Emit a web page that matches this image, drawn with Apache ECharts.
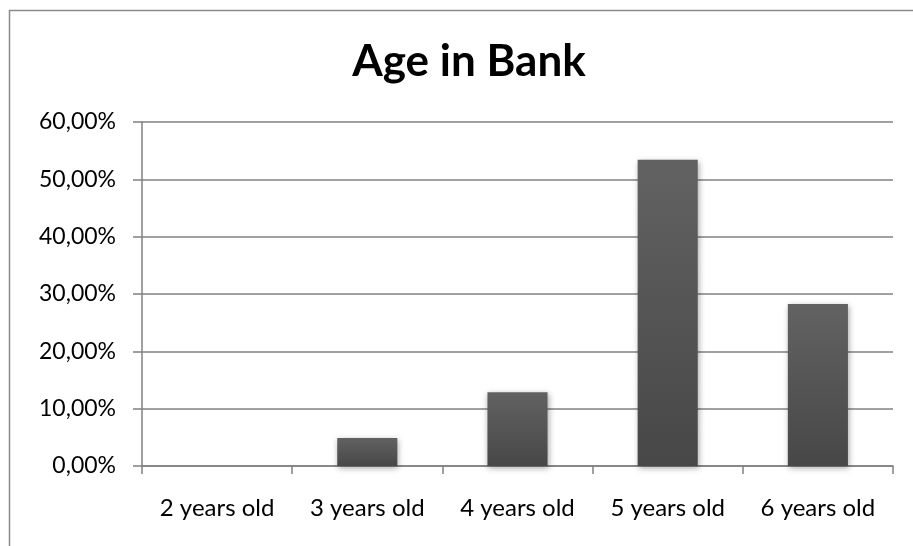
<!DOCTYPE html>
<html>
<head>
<meta charset="utf-8">
<script src="https://cdn.jsdelivr.net/npm/echarts@6/dist/echarts.min.js"></script>
<style>html,body{margin:0;padding:0;background:#fff;}#c{width:913px;height:546px;}</style>
</head>
<body>
<div id="c"></div>
<script>
const titleText = 'Age in Bank';
const categories = ['2 years old', '3 years old', '4 years old', '5 years old', '6 years old'];
const values = [0, 4.88, 12.85, 53.4, 28.25];
const yTicks = [0, 10, 20, 30, 40, 50, 60];

const chart = echarts.init(document.getElementById('c'));
const axisColor = '#808080';
chart.setOption({
  animation: false,
  backgroundColor: '#ffffff',
  title: {
    text: titleText,
    left: 464, top: 35, textAlign: 'center',
    textStyle: { fontFamily: 'Lato', fontWeight: 'bold', fontSize: 44, color: '#000' }
  },
  graphic: [{
    type: 'rect', shape: { x: 9.5, y: 10.5, width: 1200, height: 1200 },
    style: { fill: 'none', stroke: '#8a8a8a', lineWidth: 1.5 }, silent: true
  }],
  grid: { left: 142, right: 20, top: 122, bottom: 80 },
  xAxis: {
    type: 'category', data: categories,
    axisLine: { lineStyle: { color: axisColor, width: 1.5 } },
    axisTick: { show: true, length: 8, lineStyle: { color: axisColor, width: 1.5 } },
    axisLabel: { fontFamily: 'Lato', fontSize: 24, color: '#000', margin: 30 }
  },
  yAxis: {
    type: 'value', min: 0, max: 60, interval: 10,
    axisLine: { show: true, lineStyle: { color: axisColor, width: 1.5 } },
    axisTick: { show: true, length: 9, lineStyle: { color: axisColor, width: 1.5 } },
    splitLine: { lineStyle: { color: axisColor, width: 1.5 } },
    axisLabel: {
      fontFamily: 'Lato', fontSize: 23, color: '#000', margin: 26,
      formatter: v => yTicks.includes(v) ? v.toFixed(2).replace('.', ',') + '%' : ''
    }
  },
  series: [{
    type: 'bar', data: values, barWidth: '40%',
    itemStyle: {
      color: new echarts.graphic.LinearGradient(0, 0, 0, 1, [
        { offset: 0, color: '#626262' }, { offset: 1, color: '#474747' }
      ]),
      shadowBlur: 6, shadowColor: 'rgba(0,0,0,0.35)', shadowOffsetX: 1, shadowOffsetY: 2
    }
  }]
});
</script>
</body>
</html>
